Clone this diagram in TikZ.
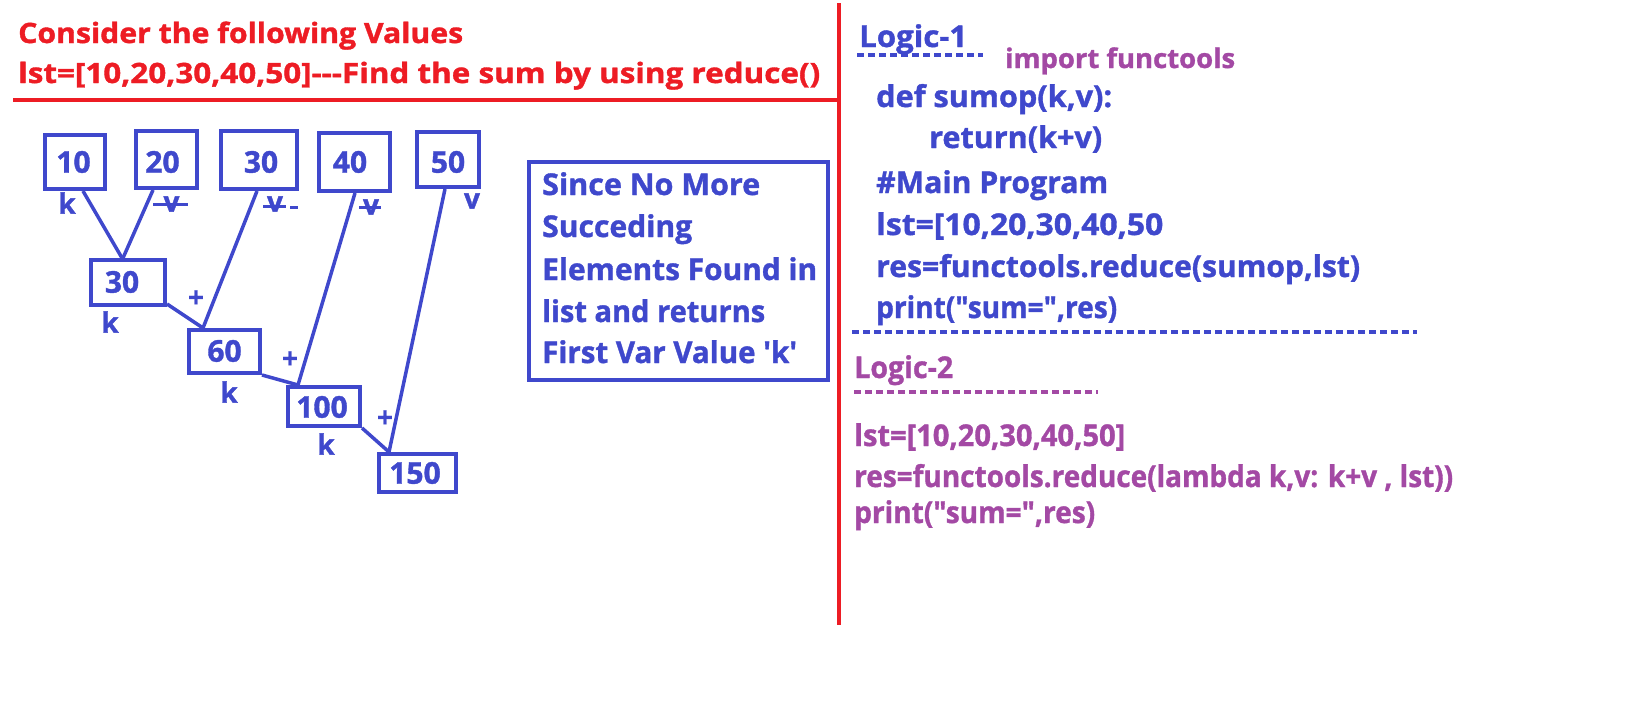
\documentclass[tikz,border=0pt]{standalone}
\usepackage{fontspec}
\usepackage{graphicx}
\setmainfont{Open Sans}[Ligatures=TeXOff, BoldFeatures={FakeBold=1.2}]
\definecolor{pblue}{RGB}{63,72,204}
\definecolor{pred}{RGB}{237,28,36}
\definecolor{ppurple}{RGB}{163,73,164}
\newsavebox\myfitbox
\newcommand\fitw[2]{\sbox\myfitbox{#2}\pgfmathsetmacro\myfitscale{#1/\wd\myfitbox}\scalebox{\myfitscale}[1]{\usebox\myfitbox}}
\newcommand\lowered[2]{\raisebox{-#1}[0pt][0pt]{#2}}
\begin{document}
\begin{tikzpicture}[x=1pt,y=-1pt,
  txt/.style={anchor=base west, inner sep=0pt, font=\bfseries\fontsize{30}{36}\selectfont},
  ttl/.style={anchor=base west, inner sep=0pt, text=pred, font=\bfseries\fontsize{28}{34}\selectfont},
  numbox/.style={draw=pblue, line width=4pt, text=pblue, inner sep=0pt, font=\bfseries\fontsize{30}{32}\selectfont},
  lbl/.style={text=pblue, inner sep=0pt, font=\bfseries\fontsize{28}{30}\selectfont},
  conn/.style={draw=pblue, line width=3.5pt},
  dashln/.style={line width=3.5pt, dash pattern=on 7pt off 4pt},
  strike/.style={draw=pblue, line width=3pt}]
\useasboundingbox (0,0) rectangle (1640,720);
% title
\node[ttl] (t1) at (18,43) {\fitw{445}{Consider the following Values}};
\node[ttl] (t2) at (18,83) {\fitw{802}{lst=[10,20,30,40,50]-{}-{}-Find the sum by using reduce()}};
\draw[pred, line width=4pt] (13,100) -- (839,100);
\draw[pred, line width=4pt] (839,3) -- (839,625);
% number boxes
\node[numbox, minimum width=60pt, minimum height=54pt] (b10) at (75,162) {\lowered{10.7pt}{\kern-3pt 10}};
\node[numbox, minimum width=61pt, minimum height=57pt] (b20) at (166.5,159.5) {\lowered{13.2pt}{\kern-8pt 20}};
\node[numbox, minimum width=76pt, minimum height=58pt] (b30a) at (259,160) {\lowered{12.7pt}{\kern4pt 30}};
\node[numbox, minimum width=71pt, minimum height=58pt] (b40) at (354.5,162) {\lowered{10.7pt}{\kern-9pt 40}};
\node[numbox, minimum width=62pt, minimum height=55pt] (b50) at (448,159.5) {\lowered{13.2pt}{50}};
\node[numbox, minimum width=74pt, minimum height=45pt] (b30b) at (128,282.5) {\lowered{10.2pt}{\kern-12pt 30}};
\node[numbox, minimum width=71pt, minimum height=43pt] (b60) at (224.5,351.5) {\lowered{10.2pt}{60}};
\node[numbox, minimum width=72pt, minimum height=39pt] (b100) at (324,406.5) {\lowered{11.2pt}{\kern-4pt 100}};
\node[numbox, minimum width=77pt, minimum height=38pt] (b150) at (417.5,473) {\lowered{10.7pt}{\kern-5pt 150}};
% connectors
\draw[conn] ([xshift=8pt]b10.south) -- ([xshift=-6pt]b30b.north);
\draw[conn] ([xshift=-13.5pt]b20.south) -- ([xshift=-5pt]b30b.north);
\draw[conn] ([xshift=-2pt]b30a.south) -- ([xshift=-21.5pt]b60.north);
\draw[conn] ([yshift=3pt]b30b.south east) -- ([xshift=-21.5pt]b60.north);
\draw[conn] ([xshift=0.5pt]b40.south) -- ([xshift=-26pt]b100.north);
\draw[conn] (b60.south east) -- ([xshift=-26pt]b100.north);
\draw[conn] ([xshift=-3pt]b50.south) -- ([xshift=-28.5pt]b150.north);
\draw[conn] (b100.south east) -- ([xshift=-28.5pt]b150.north);
% labels
\node[lbl] (k1) at (67,203) {k};
\node[lbl] (k2) at (110,322) {k};
\node[lbl] (k3) at (229,392) {k};
\node[lbl] (k4) at (326,444) {k};
\node[lbl] (v5) at (472,201) {v};
\node[lbl] (p1) at (196,299) {+};
\node[lbl] (p2) at (290,360) {+};
\node[lbl] (p3) at (385,419) {+};
\node[lbl] (v2) at (171.5,204) {v};
\draw[strike] (153,204) -- (188,204);
\node[lbl] (v3) at (275,204) {v};
\draw[strike] (263,206) -- (286,206);
\draw[strike] (290,207) -- (298,207);
\node[lbl] (v4) at (371,207) {v};
\draw[strike] (359,207) -- (381,207);
% info box
\draw[pblue, line width=4pt] (529,162) rectangle (828,380);
\node[txt, text=pblue] (s1) at (542,195) {\fitw{218}{Since No More}};
\node[txt, text=pblue] (s2) at (542,237) {\fitw{150}{Succeding}};
\node[txt, text=pblue] (s3) at (542,280) {\fitw{275}{Elements Found in}};
\node[txt, text=pblue] (s4) at (542,322) {\fitw{223}{list and returns}};
\node[txt, text=pblue] (s5) at (542,363) {\fitw{255}{First Var Value 'k'}};
% Logic 1
\node[txt, text=pblue] (l1) at (859,47) {\fitw{108}{Logic-1}};
\draw[pblue, dashln] (857,55) -- (983,55);
\node[txt, text=ppurple, font=\bfseries\fontsize{27}{32}\selectfont] (imp) at (1005,68) {\fitw{230}{import functools}};
\node[txt, text=pblue] (c1) at (876,107) {\fitw{236}{def sumop(k,v):}};
\node[txt, text=pblue] (c2) at (929,148) {\fitw{173}{return(k+v)}};
\node[txt, text=pblue] (c3) at (876,193) {\fitw{232}{\#Main Program}};
\node[txt, text=pblue] (c4) at (876,235) {\fitw{287}{lst=[10,20,30,40,50}};
\node[txt, text=pblue] (c5) at (876,277) {\fitw{484}{res=functools.reduce(sumop,lst)}};
\node[txt, text=pblue] (c6) at (876,318) {\fitw{241}{print("sum=",res)}};
\draw[pblue, dashln] (852,332) -- (1417,332);
% Logic 2
\node[txt, text=ppurple] (l2) at (854,378) {\fitw{99}{Logic-2}};
\draw[ppurple, dashln] (854,392) -- (1098,392);
\node[txt, text=ppurple] (d1) at (854,446) {\fitw{271}{lst=[10,20,30,40,50]}};
\node[txt, text=ppurple] (d2) at (854,487) {\fitw{599}{res=functools.reduce(lambda k,v: k+v , lst))}};
\node[txt, text=ppurple] (d3) at (854,523) {\fitw{241}{print("sum=",res)}};
\end{tikzpicture}
\end{document}
